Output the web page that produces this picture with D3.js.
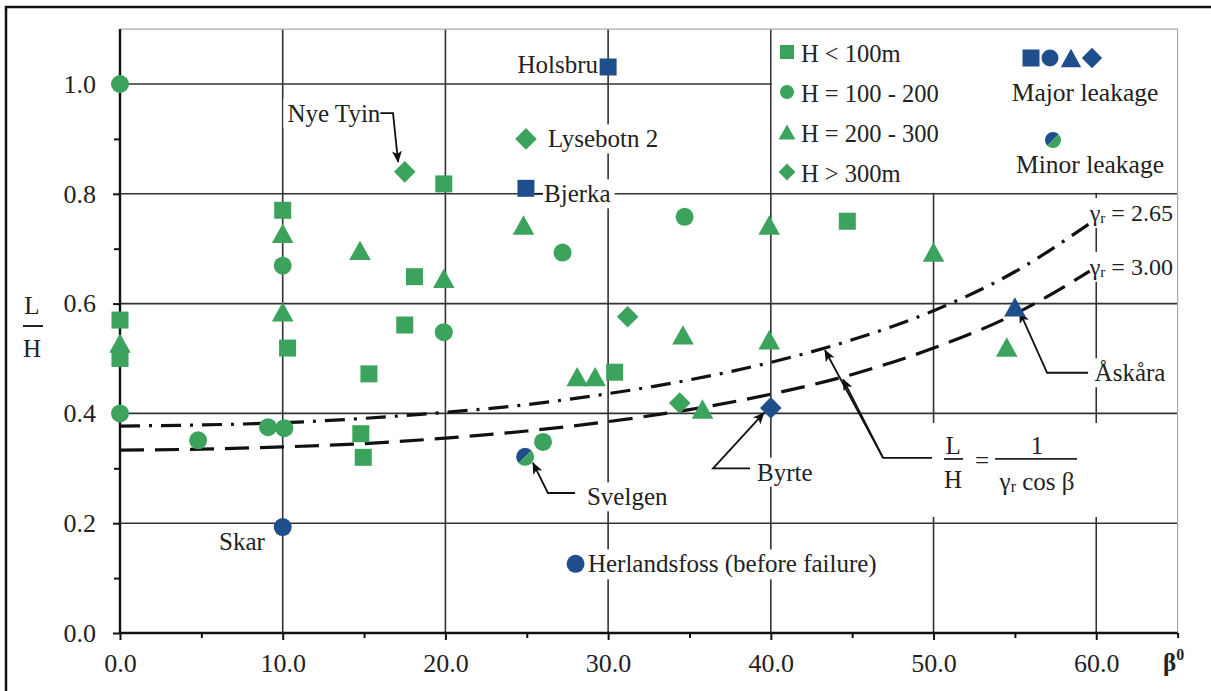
<!DOCTYPE html>
<html>
<head>
<meta charset="utf-8">
<script src="https://cdn.jsdelivr.net/npm/d3@7"></script>
<style>
  html,body{margin:0;padding:0;background:#fff;}
  svg{display:block;}
  svg text{font-family:"Liberation Serif","Tinos","Times New Roman","DejaVu Serif",serif !important;fill:#222;}
</style>
</head>
<body>
<svg id="chart" width="1211" height="691"></svg>
<script>
// ---------------- DATA ----------------
const xTickValues = [0, 10, 20, 30, 40, 50, 60];
const xTickLabels = ["0.0", "10.0", "20.0", "30.0", "40.0", "50.0", "60.0"];
const yTickValues = [0, 0.2, 0.4, 0.6, 0.8, 1.0];
const yTickLabels = ["0.0", "0.2", "0.4", "0.6", "0.8", "1.0"];
const xMinorTicks = [5, 15, 25, 35, 45, 55, 65];
const yMinorTicks = [0.1, 0.3, 0.5, 0.7, 0.9];

const legendLabels = ["H < 100m", "H = 100 - 200", "H = 200 - 300", "H > 300m"];
const legendShapes = ["square", "circle", "triangle", "diamond"];

// [beta (deg), L/H]
const squaresGreen = [[0,0.57],[0,0.50],[10,0.77],[10.3,0.519],[15.3,0.472],[14.8,0.363],[14.95,0.32],
  [17.5,0.561],[18.1,0.649],[19.9,0.818],[30.4,0.475],[44.7,0.75]];
const squaresBlue = [[30,1.031],[24.95,0.81]];
const circlesGreen = [[0,1.0],[0,0.40],[4.8,0.351],[9.1,0.375],[10.1,0.373],[10,0.669],[19.9,0.548],
  [26.0,0.348],[27.2,0.693],[34.7,0.758]];
const circlesBlue = [[10,0.193],[28,0.126]];
const circlesMinor = [[24.9,0.321]];
const trianglesGreen = [[0,0.528],[10,0.728],[10,0.585],[14.75,0.697],[19.9,0.646],[24.8,0.743],
  [28.1,0.467],[29.2,0.467],[34.6,0.543],[35.8,0.408],[39.9,0.743],[39.9,0.534],[50,0.694],[54.5,0.521]];
const trianglesBlue = [[55,0.594]];
const diamondsGreen = [[17.5,0.84],[24.95,0.90],[31.2,0.576],[34.4,0.419]];
const diamondsBlue = [[40,0.41]];

// curves
const curveBeta = [0,5,10,15,20,25,30,35,40,45,50,55,59.6];
const curveG265 = [0.377,0.379,0.383,0.391,0.402,0.416,0.436,0.461,0.493,0.534,0.587,0.658,0.746];
const curveG300 = [0.333,0.335,0.339,0.345,0.355,0.368,0.385,0.407,0.435,0.471,0.519,0.581,0.659];

// annotation labels: [text, beta, L/H, anchor]
const labels = [
  ["Holsbru", 29.38, 1.036, "end"],
  ["Lysebotn 2", 26.3, 0.90, "start"],
  ["Bjerka", 26.06, 0.80, "start"],
  ["Nye Tyin", 16.0, 0.947, "end"],
  ["Skar", 7.5, 0.166, "middle"],
  ["Svelgen", 28.7, 0.248, "start"],
  ["Byrte", 39.15, 0.293, "start"],
  ["Herlandsfoss (before failure)", 28.76, 0.126, "start"],
  ["Åskåra", 59.9, 0.474, "start"]
];
// leader polylines in data units; last point gets an arrowhead (if flagged)
const leaders = [
  {pts: [[25.5,0.80],[26.0,0.80]], arrow:false},
  {pts: [[16.0,0.947],[16.78,0.947],[17.09,0.858]], arrow:true},
  {pts: [[27.97,0.255],[26.3,0.255],[25.38,0.310]], arrow:true},
  {pts: [[38.72,0.30],[36.45,0.30],[39.58,0.401]], arrow:true},
  {pts: [[59.5,0.474],[56.98,0.474],[55.3,0.585]], arrow:true},
  {pts: [[49.9,0.319],[46.9,0.319],[43.33,0.515]], arrow:true},
  {pts: [[46.9,0.319],[44.44,0.462]], arrow:true}
];
const gammaLabels = [["2.65", 59.6, 0.765], ["3.00", 59.6, 0.667]];

// ---------------- CHART ----------------
const FONT = "'Liberation Serif','Tinos','Times New Roman','DejaVu Serif',serif";
const GREEN = "#3ba35c", BLUE = "#1f4e8c";
const svg = d3.select("#chart").attr("font-family", FONT);
const x = d3.scaleLinear().domain([0, 65]).range([120, 1177.6]);
const y = d3.scaleLinear().domain([0, 1.1]).range([633, 29.1]);

// outer frame
svg.append("rect").attr("x", 6).attr("y", 7).attr("width", 1230).attr("height", 720)
  .attr("fill", "none").attr("stroke", "#111").attr("stroke-width", 2.5);

// gridlines
const grid = svg.append("g");
grid.selectAll(".hg").data(yTickValues.filter(v => v > 0)).join("line")
  .attr("x1", x(0)).attr("x2", x(65)).attr("y1", d => y(d)).attr("y2", d => y(d))
  .attr("stroke", "#333").attr("stroke-width", 1.6);
grid.selectAll(".vg").data(xTickValues.filter(v => v > 0)).join("line")
  .attr("y1", y(0)).attr("y2", y(1.1)).attr("x1", d => x(d)).attr("x2", d => x(d))
  .attr("stroke", "#333").attr("stroke-width", 1.6);

// legend background (covers grid in top-right)
svg.append("rect").attr("x", x(40) + 1).attr("y", y(1.1)).attr("width", x(65) - x(40) - 1)
  .attr("height", y(0.8) - y(1.1) - 1).attr("fill", "#fff");

// plot top/right border
svg.append("path").attr("d", `M${x(0)},${y(1.1)}H${x(65)}V${y(0)}`)
  .attr("fill", "none").attr("stroke", "#aaa").attr("stroke-width", 1.2);

// axes
const xAxis = d3.axisBottom(x).tickValues(xTickValues).tickFormat((d, i) => xTickLabels[i])
  .tickSize(7).tickPadding(14);
const gx = svg.append("g").attr("transform", `translate(0,${y(0)})`).call(xAxis);
gx.attr("font-family", FONT);
gx.select(".domain").remove();
gx.selectAll("line").attr("stroke", "#111").attr("stroke-width", 2);
gx.selectAll("text").attr("font-size", 26).attr("fill", "#333");
const xMinor = d3.axisBottom(x).tickValues(xMinorTicks).tickFormat("").tickSize(5);
const gxm = svg.append("g").attr("transform", `translate(0,${y(0)})`).call(xMinor);
gxm.select(".domain").remove();
gxm.selectAll("line").attr("stroke", "#111").attr("stroke-width", 2);

const yAxis = d3.axisLeft(y).tickValues(yTickValues).tickFormat((d, i) => yTickLabels[i])
  .tickSize(7).tickPadding(17);
const gy = svg.append("g").attr("transform", `translate(${x(0)},0)`).call(yAxis);
gy.attr("font-family", FONT);
gy.select(".domain").remove();
gy.selectAll("line").attr("stroke", "#111").attr("stroke-width", 2);
gy.selectAll("text").attr("font-size", 26).attr("fill", "#333");
const yMinor = d3.axisLeft(y).tickValues(yMinorTicks).tickFormat("").tickSize(6);
const gym = svg.append("g").attr("transform", `translate(${x(0)},0)`).call(yMinor);
gym.select(".domain").remove();
gym.selectAll("line").attr("stroke", "#111").attr("stroke-width", 2);

// axis lines
svg.append("line").attr("x1", x(0)).attr("x2", x(65)).attr("y1", y(0)).attr("y2", y(0))
  .attr("stroke", "#111").attr("stroke-width", 2.4);
svg.append("line").attr("x1", x(0)).attr("x2", x(0)).attr("y1", y(0)).attr("y2", y(1.1))
  .attr("stroke", "#111").attr("stroke-width", 2.4);

// axis titles
const yt = svg.append("g");
yt.append("text").attr("x", 32).attr("y", 305).attr("text-anchor", "middle").attr("dominant-baseline", "central")
  .attr("font-size", 25).text("L");
yt.append("line").attr("x1", 23).attr("x2", 43).attr("y1", 326).attr("y2", 326).attr("stroke", "#222").attr("stroke-width", 2);
yt.append("text").attr("x", 32).attr("y", 348).attr("text-anchor", "middle").attr("dominant-baseline", "central")
  .attr("font-size", 25).text("H");
const bt = svg.append("text").attr("x", 1163).attr("y", 671).attr("font-size", 25).attr("font-weight", "bold");
bt.append("tspan").text("β");
bt.append("tspan").attr("font-size", 16).attr("dy", -11).text("0");

// label backgrounds + labels
const labelLayer = svg.append("g");
const bgLayer = labelLayer.append("g");
const textLayer = svg.append("g");
labels.forEach(([t, b, v, anchor]) => {
  const el = textLayer.append("text").attr("x", x(b)).attr("y", y(v))
    .attr("text-anchor", anchor).attr("dominant-baseline", "central")
    .attr("font-size", 25).text(t);
  const bb = el.node().getBBox();
  bgLayer.append("rect").attr("x", bb.x - 4).attr("y", bb.y - 1).attr("width", bb.width + 8)
    .attr("height", bb.height + 2).attr("fill", "#fff");
});

// gamma labels
gammaLabels.forEach(([val, b, v]) => {
  const el = textLayer.append("text").attr("x", x(b)).attr("y", y(v))
    .attr("dominant-baseline", "central").attr("font-size", 24);
  el.append("tspan").text("γ");
  el.append("tspan").attr("font-size", 15).attr("dy", 5).text("r");
  el.append("tspan").attr("dy", -5).text(" = " + val);
  const bb = el.node().getBBox();
  bgLayer.append("rect").attr("x", bb.x - 2).attr("y", bb.y - 2).attr("width", bb.width + 4)
    .attr("height", bb.height + 4).attr("fill", "#fff");
});

// formula
const fx = x(51.2), fy = y(0.317);
const fg = textLayer.append("g").attr("font-size", 25);
fg.append("text").attr("x", fx).attr("y", fy - 13).attr("text-anchor", "middle").attr("dominant-baseline", "central").text("L");
fg.append("line").attr("x1", fx - 9).attr("x2", fx + 10).attr("y1", fy).attr("y2", fy).attr("stroke", "#222").attr("stroke-width", 1.8);
fg.append("text").attr("x", fx).attr("y", fy + 21).attr("text-anchor", "middle").attr("dominant-baseline", "central").text("H");
fg.append("text").attr("x", fx + 29).attr("y", fy + 2).attr("text-anchor", "middle").attr("dominant-baseline", "central").text("=");
fg.append("text").attr("x", fx + 84).attr("y", fy - 13).attr("text-anchor", "middle").attr("dominant-baseline", "central").text("1");
fg.append("line").attr("x1", fx + 42).attr("x2", fx + 124).attr("y1", fy).attr("y2", fy).attr("stroke", "#222").attr("stroke-width", 1.8);
const den = fg.append("text").attr("x", fx + 84).attr("y", fy + 22).attr("text-anchor", "middle").attr("dominant-baseline", "central");
den.append("tspan").text("γ");
den.append("tspan").attr("font-size", 16).attr("dy", 5).text("r");
den.append("tspan").attr("dy", -5).text(" cos β");
bgLayer.append("rect").attr("x", fx - 22).attr("y", fy - 36).attr("width", 170).attr("height", 94).attr("fill", "#fff");

// curves
const lineGen = d3.line().x((d, i) => x(curveBeta[i])).y(d => y(d)).curve(d3.curveMonotoneX);
svg.append("path").datum(curveG265).attr("d", lineGen).attr("fill", "none").attr("stroke", "#111")
  .attr("stroke-width", 3.2).attr("stroke-dasharray", "20,9,3,9");
svg.append("path").datum(curveG300).attr("d", lineGen).attr("fill", "none").attr("stroke", "#111")
  .attr("stroke-width", 3.2).attr("stroke-dasharray", "24,11");

// arrow marker
svg.append("defs").append("marker").attr("id", "arr").attr("viewBox", "0 0 12 10")
  .attr("refX", 11).attr("refY", 5).attr("markerWidth", 12).attr("markerHeight", 10)
  .attr("markerUnits", "userSpaceOnUse").attr("orient", "auto")
  .append("path").attr("d", "M0,0 L12,5 L0,10 L3,5 Z").attr("fill", "#111");

const leaderLine = d3.line().x(d => x(d[0])).y(d => y(d[1]));
leaders.forEach(l => {
  const p = svg.append("path").attr("d", leaderLine(l.pts)).attr("fill", "none")
    .attr("stroke", "#111").attr("stroke-width", 1.8);
  if (l.arrow) p.attr("marker-end", "url(#arr)");
});

// marker shapes
function shapePath(type, s) {
  if (type === "square") return `M${-s/2},${-s/2}h${s}v${s}h${-s}Z`;
  if (type === "circle") return d3.arc()({innerRadius: 0, outerRadius: s/2, startAngle: 0, endAngle: 2*Math.PI});
  if (type === "triangle") { const w = s * 1.2, h = s * 1.08; return `M0,${-h/2}L${w/2},${h/2}L${-w/2},${h/2}Z`; }
  if (type === "diamond") { const d = s * 0.6; return `M0,${-d}L${d},0L0,${d}L${-d},0Z`; }
}
const markLayer = svg.append("g");
function drawSeries(data, type, color, size) {
  markLayer.append("g").selectAll("path").data(data).join("path")
    .attr("transform", d => `translate(${x(d[0])},${y(d[1])})`)
    .attr("d", shapePath(type, size)).attr("fill", color);
}
drawSeries(squaresGreen, "square", GREEN, 17);
drawSeries(circlesGreen, "circle", GREEN, 18);
drawSeries(trianglesGreen, "triangle", GREEN, 18);
drawSeries(diamondsGreen, "diamond", GREEN, 18);
drawSeries(squaresBlue, "square", BLUE, 17);
drawSeries(circlesBlue, "circle", BLUE, 18);
drawSeries(trianglesBlue, "triangle", BLUE, 18);
drawSeries(diamondsBlue, "diamond", BLUE, 18);

function drawMinor(g, r) {
  g.append("path").attr("d", d3.arc()({innerRadius: 0, outerRadius: r, startAngle: 5*Math.PI/4, endAngle: 9*Math.PI/4})).attr("fill", BLUE);
  g.append("path").attr("d", d3.arc()({innerRadius: 0, outerRadius: r, startAngle: Math.PI/4, endAngle: 5*Math.PI/4})).attr("fill", GREEN);
}
circlesMinor.forEach(d => drawMinor(markLayer.append("g").attr("transform", `translate(${x(d[0])},${y(d[1])})`), 9));

// bring text on top
textLayer.raise();

// legend
const lg = svg.append("g");
legendLabels.forEach((t, i) => {
  const cy = 52 + i * 40;
  lg.append("path").attr("transform", `translate(787,${cy})`).attr("d", shapePath(legendShapes[i], 14)).attr("fill", GREEN);
  lg.append("text").attr("x", 801).attr("y", cy + 1).attr("dominant-baseline", "central").attr("font-size", 24.5).text(t);
});
const majorX = [1031, 1050, 1071, 1092];
legendShapes.forEach((s, i) => {
  lg.append("path").attr("transform", `translate(${majorX[i]},58)`).attr("d", shapePath(s, 17)).attr("fill", BLUE);
});
lg.append("text").attr("x", 1085).attr("y", 92).attr("text-anchor", "middle").attr("dominant-baseline", "central")
  .attr("font-size", 25.5).text("Major leakage");
drawMinor(lg.append("g").attr("transform", "translate(1053,140)"), 8);
lg.append("text").attr("x", 1090).attr("y", 164).attr("text-anchor", "middle").attr("dominant-baseline", "central")
  .attr("font-size", 25.5).text("Minor leakage");
</script>
</body>
</html>
